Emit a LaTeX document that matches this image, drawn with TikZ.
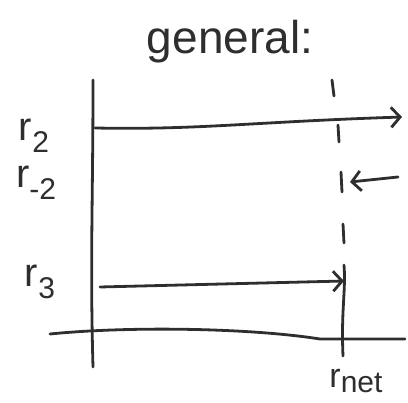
\documentclass[tikz,border=0pt]{standalone}
\usepackage{fontspec}
\setmainfont{Liberation Sans}
\usetikzlibrary{arrows.meta}
\definecolor{ink}{HTML}{2E2E2E}
\newcommand{\subx}[1]{\raisebox{-0.3em}{\fontsize{30}{32}\selectfont #1}}
\begin{document}
\begin{tikzpicture}[x=1pt,y=-1pt,
  pen/.style={draw=ink,line width=2.8pt,line cap=round,line join=round},
  arr/.style={pen,-{Straight Barb[length=9pt,width=20pt,line width=2.8pt]}},
  lbl/.style={text=ink,font=\fontsize{40}{42}\selectfont,inner sep=0pt}]
\useasboundingbox (0,0) rectangle (408,403);
% axes
\coordinate (vtop) at (93,80);
\coordinate (vbot) at (93,367);
\coordinate (hl) at (50,334);
\coordinate (hr) at (405,339);
\draw[pen] (vtop) .. controls (93,200) and (90,260) .. (vbot);
\draw[pen] (hl) .. controls (130,326) and (250,328) .. (320,339) -- (hr);
% dashed line at r_net
\coordinate (d1a) at (332,80); \coordinate (d1b) at (334,96);
\coordinate (d2a) at (338,125); \coordinate (d2b) at (339,142);
\coordinate (d3a) at (341,172); \coordinate (d3b) at (342,192);
\coordinate (d4a) at (343,224); \coordinate (d4b) at (344,243);
\coordinate (d5a) at (344,265); \coordinate (d5b) at (343,356);
\draw[pen] (d1a) -- (d1b);
\draw[pen] (d2a) -- (d2b);
\draw[pen] (d3a) -- (d3b);
\draw[pen] (d4a) -- (d4b);
\draw[pen] (d5a) .. controls (346,290) and (341,310) .. (d5b);
% arrows
\coordinate (a1s) at (95,128); \coordinate (a1e) at (402,117);
\coordinate (a2s) at (398,177); \coordinate (a2e) at (350,182);
\coordinate (a3s) at (100,287); \coordinate (a3e) at (344,281);
\draw[arr] (a1s) .. controls (200,130) and (250,122) .. (a1e);
\draw[arr] (a2s) -- (a2e);
\draw[arr] (a3s) -- (a3e);
% labels
\node[lbl,font=\fontsize{46}{48}\selectfont] (title) at (230,42) {general:};
\node[lbl] (r2) at (34,136) {r\subx{2}};
\node[lbl] (rm2) at (36,183) {r\subx{-2}};
\node[lbl] (r3) at (40,282) {r\subx{3}};
\node[lbl,font=\fontsize{34}{36}\selectfont] (rnet) at (356,381) {r\raisebox{-0.12em}{\fontsize{30}{32}\selectfont net}};
\end{tikzpicture}
\end{document}
